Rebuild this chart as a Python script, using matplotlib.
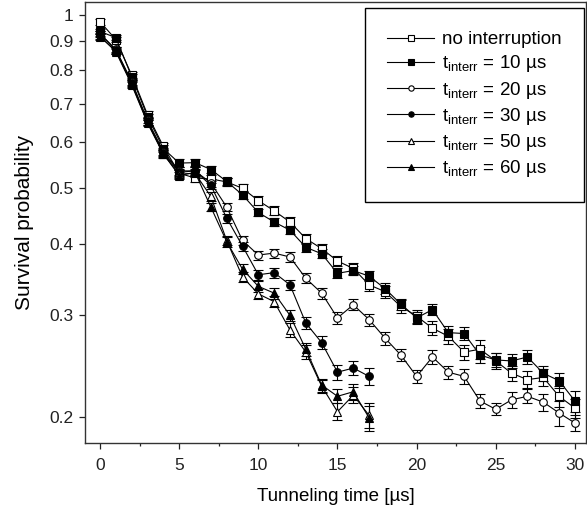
import matplotlib
matplotlib.use('Agg')
import matplotlib.pyplot as plt
from matplotlib.ticker import FixedLocator, NullLocator, MultipleLocator, FixedFormatter

plt.rcParams['font.family'] = ['Liberation Sans', 'DejaVu Sans']
plt.rcParams['mathtext.fontset'] = 'custom'
plt.rcParams['mathtext.rm'] = 'Liberation Sans'
plt.rcParams['mathtext.it'] = 'Liberation Sans:italic'

# ---- data ----
t_long = list(range(0, 31))
t_short = list(range(0, 18))

noint = [0.972, 0.905, 0.785, 0.670, 0.590, 0.530, 0.520, 0.518, 0.512, 0.499, 0.475,
         0.456, 0.436, 0.408, 0.392, 0.373, 0.362, 0.339, 0.330, 0.311, 0.299,
         0.285, 0.276, 0.259, 0.262, 0.250, 0.238, 0.232, 0.234, 0.217, 0.207]
noint_err = [0.012, 0.010, 0.010, 0.009, 0.008, 0.008, 0.008, 0.008, 0.008, 0.008, 0.008,
             0.008, 0.008, 0.008, 0.008, 0.008, 0.008, 0.008, 0.008, 0.008, 0.008,
             0.008, 0.008, 0.008, 0.010, 0.008, 0.007, 0.008, 0.008, 0.009, 0.008]

i10 = [0.935, 0.912, 0.780, 0.665, 0.585, 0.552, 0.553, 0.538, 0.513, 0.486, 0.453,
       0.436, 0.422, 0.394, 0.384, 0.355, 0.359, 0.351, 0.334, 0.314, 0.297,
       0.307, 0.280, 0.279, 0.256, 0.251, 0.250, 0.254, 0.238, 0.231, 0.213]
i10_err = [0.010, 0.009, 0.009, 0.008, 0.008, 0.008, 0.008, 0.007, 0.007, 0.007, 0.007,
           0.007, 0.007, 0.007, 0.007, 0.007, 0.007, 0.007, 0.007, 0.007, 0.007,
           0.007, 0.008, 0.007, 0.008, 0.007, 0.007, 0.007, 0.007, 0.007, 0.009]

i20 = [0.925, 0.870, 0.765, 0.655, 0.578, 0.535, 0.535, 0.510, 0.463, 0.405, 0.382,
       0.385, 0.379, 0.348, 0.328, 0.297, 0.313, 0.295, 0.274, 0.256, 0.235,
       0.254, 0.239, 0.235, 0.213, 0.206, 0.214, 0.217, 0.212, 0.203, 0.195]
i20_err = [0.010, 0.009, 0.009, 0.008, 0.008, 0.008, 0.008, 0.008, 0.008, 0.007, 0.007,
           0.007, 0.007, 0.007, 0.007, 0.007, 0.007, 0.007, 0.007, 0.006, 0.006,
           0.007, 0.006, 0.007, 0.006, 0.005, 0.007, 0.006, 0.007, 0.010, 0.006]

i30 = [0.928, 0.868, 0.762, 0.652, 0.575, 0.532, 0.535, 0.505, 0.443, 0.396, 0.353,
       0.356, 0.339, 0.291, 0.269, 0.239, 0.243, 0.235]
i30_err = [0.010, 0.009, 0.009, 0.008, 0.008, 0.008, 0.008, 0.008, 0.008, 0.007, 0.007,
           0.007, 0.007, 0.007, 0.007, 0.007, 0.007, 0.008]

i50 = [0.918, 0.862, 0.755, 0.648, 0.572, 0.528, 0.530, 0.483, 0.405, 0.350, 0.327,
       0.317, 0.283, 0.259, 0.226, 0.204, 0.218, 0.201]
i50_err = [0.010, 0.009, 0.009, 0.008, 0.008, 0.008, 0.008, 0.008, 0.008, 0.007, 0.007,
           0.007, 0.008, 0.007, 0.006, 0.007, 0.007, 0.010]

i60 = [0.915, 0.865, 0.758, 0.650, 0.573, 0.525, 0.532, 0.463, 0.403, 0.361, 0.337,
       0.328, 0.300, 0.262, 0.227, 0.217, 0.221, 0.199]
i60_err = [0.010, 0.009, 0.009, 0.008, 0.008, 0.008, 0.008, 0.008, 0.008, 0.007, 0.007,
           0.007, 0.007, 0.007, 0.006, 0.006, 0.007, 0.010]

labels = ['no interruption',
          r'$\mathregular{t_{interr}}$ = 10 µs',
          r'$\mathregular{t_{interr}}$ = 20 µs',
          r'$\mathregular{t_{interr}}$ = 30 µs',
          r'$\mathregular{t_{interr}}$ = 50 µs',
          r'$\mathregular{t_{interr}}$ = 60 µs']

yticks = [0.2, 0.3, 0.4, 0.5, 0.6, 0.7, 0.8, 0.9, 1.0]
yticklabels = ['0.2', '0.3', '0.4', '0.5', '0.6', '0.7', '0.8', '0.9', '1']
xticks = [0, 5, 10, 15, 20, 25, 30]

# ---- figure ----
W, H = 587, 511
fig = plt.figure(figsize=(W / 100, H / 100), dpi=100)
ax_l, ax_r, ax_t, ax_b = 85, 586, 2, 443
ax = fig.add_axes([ax_l / W, 1 - ax_b / H, (ax_r - ax_l) / W, (ax_b - ax_t) / H])

specs = [
    (t_long, noint, noint_err, 's', 'white'),
    (t_long, i10, i10_err, 's', 'black'),
    (t_long, i20, i20_err, 'o', 'white'),
    (t_short, i30, i30_err, 'o', 'black'),
    (t_short, i50, i50_err, '^', 'white'),
    (t_short, i60, i60_err, '^', 'black'),
]

handles = []
for (tt, yy, ee, mk, fc), lab in zip(specs, labels):
    h = ax.errorbar(tt, yy, yerr=ee, fmt='-', marker=mk, color='black',
                    mfc=fc, mec='black', ms=5.5, mew=0.8, lw=0.8,
                    elinewidth=0.8, capsize=3.8, capthick=0.8, label=lab)
    handles.append(h)

ax.set_yscale('log')
ax.set_xlim(-0.95, 30.7)
ax.set_ylim(0.180, 1.052)

ax.yaxis.set_major_locator(FixedLocator(yticks))
ax.yaxis.set_major_formatter(FixedFormatter(yticklabels))
ax.yaxis.set_minor_locator(NullLocator())
ax.xaxis.set_major_locator(FixedLocator(xticks))
ax.xaxis.set_minor_locator(MultipleLocator(2.5))

ax.tick_params(axis='both', which='major', direction='out', length=4.5, width=0.9,
               labelsize=12.5, colors='#222222', pad=4)
ax.tick_params(axis='x', which='minor', direction='out', length=2.5, width=0.9,
               colors='#222222')
ax.tick_params(axis='x', which='major', pad=6)
for s in ax.spines.values():
    s.set_linewidth(1.0)
    s.set_color('#333333')

ax.set_xlabel('Tunneling time [µs]', fontsize=13.5, labelpad=11)
ax.set_ylabel('Survival probability', fontsize=15, labelpad=11)

anchor_x = (584 - ax_l) / (ax_r - ax_l)
anchor_y = (ax_b - 8.5) / (ax_b - ax_t)
leg = ax.legend(handles=[h[0] for h in handles], labels=labels,
                loc='upper right', bbox_to_anchor=(anchor_x, anchor_y),
                fontsize=13.5, frameon=True, fancybox=False,
                edgecolor='black', framealpha=1, handlelength=2.5,
                markerscale=0.7, labelspacing=0.28, borderpad=1.2,
                handletextpad=0.42, borderaxespad=0.0)
leg.get_frame().set_linewidth(1.0)

fig.savefig('out.png', dpi=100)
